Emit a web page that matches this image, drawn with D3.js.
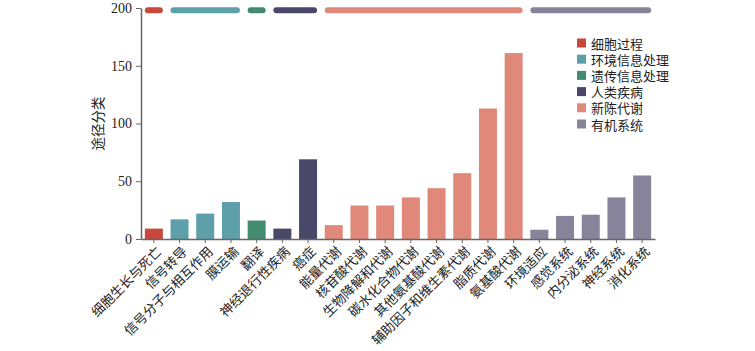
<!DOCTYPE html>
<html>
<head>
<meta charset="utf-8">
<script src="https://cdn.jsdelivr.net/npm/d3@7"></script>
<style>
  body { margin: 0; background: #fff; }
  text { font-family: "Noto Sans CJK SC", "Liberation Serif", serif; }
  .num { font-family: "Liberation Serif", "DejaVu Serif", serif; }
</style>
</head>
<body>
<svg id="chart"></svg>
<script>
let width = 755, height = 351;

// data
let categories = ["细胞生长与死亡", "信号转导", "信号分子与相互作用", "膜运输", "翻译",
  "神经退行性疾病", "癌症", "能量代谢", "核苷酸代谢", "生物降解和代谢", "碳水化合物代谢",
  "其他氨基酸代谢", "辅助因子和维生素代谢", "脂质代谢", "氨基酸代谢", "环境适应",
  "感觉系统", "内分泌系统", "神经系统", "消化系统"];
let values = [9, 17, 22, 32, 16, 9, 69, 12, 29, 29, 36, 44, 57, 113, 161, 8, 20, 21, 36, 55];
let groupOf = [0, 1, 1, 1, 2, 3, 3, 4, 4, 4, 4, 4, 4, 4, 4, 5, 5, 5, 5, 5];
let groups = ["细胞过程", "环境信息处理", "遗传信息处理", "人类疾病", "新陈代谢", "有机系统"];
let groupColors = ["#c8483b", "#5da0a9", "#438b70", "#4a4868", "#e0897a", "#86839a"];
let yTicks = [0, 50, 100, 150, 200];

let svg = d3.select("#chart")
  .attr("width", width)
  .attr("height", height);

let left = 141, right = 100, top_sp = 8, bottom = 112;

let xax = d3.scaleBand()
  .domain(categories)
  .range([left, width - right])
  .paddingInner(0.3)
  .paddingOuter(0.15);

let yax = d3.scaleLinear()
  .domain([0, 200])
  .range([height - bottom, top_sp]);

let color = d3.scaleOrdinal().domain(groups).range(groupColors);

// bars
svg.append("g")
  .selectAll("rect")
  .data(categories)
  .join("rect")
  .attr("x", d => xax(d))
  .attr("width", xax.bandwidth())
  .attr("y", (d, i) => yax(values[i]))
  .attr("height", (d, i) => yax(0) - yax(values[i]))
  .attr("fill", (d, i) => color(groups[groupOf[i]]));

// group strips along the top
let spans = groups.map((g, gi) => {
  let members = categories.filter((c, i) => groupOf[i] === gi);
  return {g: g, x0: xax(members[0]) + 3, x1: xax(members[members.length - 1]) + xax.bandwidth() - 3};
});
svg.append("g")
  .selectAll("line")
  .data(spans)
  .join("line")
  .attr("x1", d => d.x0)
  .attr("x2", d => d.x1)
  .attr("y1", yax(198))
  .attr("y2", yax(198))
  .attr("stroke", d => color(d.g))
  .attr("stroke-width", 6)
  .attr("stroke-linecap", "round");

// y axis
let yax_draw = d3.axisLeft(yax).tickValues(yTicks).tickSize(5).tickSizeOuter(0);
let gy = svg.append("g")
  .attr("transform", `translate(${left}, 0)`)
  .call(yax_draw);
gy.select(".domain").attr("stroke", "#666").attr("stroke-width", 1.5);
gy.selectAll(".tick line").attr("stroke", "#666");
gy.selectAll(".tick text")
  .attr("class", "num")
  .attr("font-size", 14)
  .attr("fill", "#222")
  .attr("x", -9);

svg.append("text")
  .text("途径分类")
  .attr("transform", `translate(103, ${yax(100)}) rotate(-90)`)
  .attr("text-anchor", "middle")
  .attr("font-size", 13.5)
  .attr("fill", "#222");

// x axis
let xax_draw = d3.axisBottom(xax).tickSize(4).tickSizeOuter(0);
let gx = svg.append("g")
  .attr("transform", `translate(0, ${yax(0)})`)
  .call(xax_draw);
gx.select(".domain").attr("stroke", "#666").attr("stroke-width", 1.5);
gx.selectAll(".tick line").attr("stroke", "#666");
gx.selectAll(".tick text")
  .attr("font-size", 13.2)
  .attr("fill", "#222")
  .attr("text-anchor", "end")
  .attr("x", null)
  .attr("y", null)
  .attr("dy", null)
  .attr("transform", "translate(6, 11) rotate(-45)")
  .attr("dominant-baseline", "middle");

// legend
let legend = svg.append("g")
  .selectAll("g")
  .data(groups)
  .join("g")
  .attr("transform", (d, i) => `translate(577, ${43 + i * 16.2})`);
legend.append("rect")
  .attr("x", 0)
  .attr("y", -4.5)
  .attr("width", 9)
  .attr("height", 9)
  .attr("fill", d => color(d));
legend.append("text")
  .text(d => d)
  .attr("x", 14)
  .attr("dominant-baseline", "central")
  .attr("font-size", 13)
  .attr("fill", "#222");
</script>
</body>
</html>
